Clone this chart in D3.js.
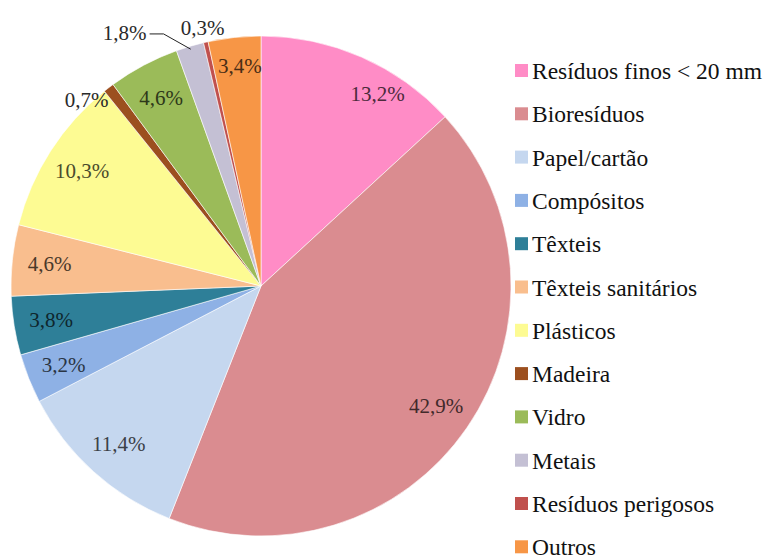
<!DOCTYPE html>
<html>
<head>
<meta charset="utf-8">
<script src="https://cdn.jsdelivr.net/npm/d3@7"></script>
<style>
  html, body { margin: 0; padding: 0; background: #ffffff; }
  svg { display: block; }
</style>
</head>
<body>
<svg id="chart" width="767" height="555"></svg>
<script>
// Composition of waste (% by weight)
const categories = [
  "Resíduos finos < 20 mm", "Bioresíduos", "Papel/cartão", "Compósitos",
  "Têxteis", "Têxteis sanitários", "Plásticos", "Madeira",
  "Vidro", "Metais", "Resíduos perigosos", "Outros"
];
const values = [13.2, 42.9, 11.4, 3.2, 3.8, 4.6, 10.3, 0.7, 4.6, 1.8, 0.3, 3.4];
const valueLabels = ["13,2%", "42,9%", "11,4%", "3,2%", "3,8%", "4,6%", "10,3%", "0,7%", "4,6%", "1,8%", "0,3%", "3,4%"];

const colors = [
  "#FF8CC6", "#DA8C90", "#C5D7EF", "#8EB1E5", "#2E7F98", "#F9BE8E",
  "#FDFB93", "#9C4F1F", "#9BBB59", "#C4C0D4", "#C0504D", "#F79646"
];

const FONT = '"Liberation Serif"';

// Label placement: angle shift (degrees) and radius as a fraction of the pie radius.
// Small slices put their labels outside the pie.
const labelPlacement = {
  "Resíduos finos < 20 mm": { shift: 7.5, r: 0.90 },
  "Madeira":            { shift: -5.6, r: 1.02, outside: true },
  "Metais":             { shift: -11.8, r: 1.15, outside: true, leader: true },
  "Resíduos perigosos": { shift: 0, r: 1.06, outside: true },
  "Outros":             { shift: 0.6, r: 0.885 }
};

const svg = d3.select("#chart");
const cx = 261, cy = 286, R = 250;

const data = categories.map((c, i) => ({ name: c, value: values[i], label: valueLabels[i], color: colors[i] }));

const pie = d3.pie().value(d => d.value).sort(null).startAngle(0).endAngle(2 * Math.PI);
const arcs = pie(data);
const arc = d3.arc().innerRadius(0).outerRadius(R);

const g = svg.append("g").attr("transform", `translate(${cx},${cy})`);

g.selectAll("path.slice")
  .data(arcs)
  .enter().append("path")
  .attr("class", "slice")
  .attr("d", arc)
  .attr("fill", d => d.data.color)
  .attr("stroke", "#ffffff")
  .attr("stroke-width", 0.6);

function polar(angle, radius) {
  return [radius * Math.sin(angle), -radius * Math.cos(angle)];
}

arcs.forEach(a => {
  const p = labelPlacement[a.data.name] || { shift: 0, r: 0.85 };
  const mid = (a.startAngle + a.endAngle) / 2;
  const ang = mid + p.shift * Math.PI / 180;
  const [x, y] = polar(ang, R * p.r);
  const fill = p.outside ? "#2a2a2a" : d3.color(a.data.color).darker(3.4).formatHex();

  if (p.leader) {
    const [ex, ey] = polar(mid, R - 3);
    const tx = x + 25, ty = y + 1;
    g.append("polyline")
      .attr("points", `${tx},${ty} ${tx + 14},${ty} ${ex},${ey}`)
      .attr("fill", "none")
      .attr("stroke", "#222")
      .attr("stroke-width", 1);
  }

  g.append("text")
    .attr("x", x)
    .attr("y", y)
    .attr("text-anchor", "middle")
    .attr("dominant-baseline", "central")
    .style("font-size", "21px")
    .style("font-family", FONT)
    .attr("fill", fill)
    .text(a.data.label);
});

// Legend
const legend = svg.append("g").attr("transform", "translate(515,71)");
const step = 43.3;
const item = legend.selectAll("g.item")
  .data(data)
  .enter().append("g")
  .attr("class", "item")
  .attr("transform", (d, i) => `translate(0,${i * step})`);

item.append("rect")
  .attr("x", 0).attr("y", -7)
  .attr("width", 13).attr("height", 13)
  .attr("fill", d => d.color);

item.append("text")
  .attr("x", 17)
  .attr("y", 0)
  .attr("dominant-baseline", "central")
  .style("font-size", "23.5px")
  .style("font-family", FONT)
  .attr("fill", "#111")
  .text(d => d.name);
</script>
</body>
</html>
